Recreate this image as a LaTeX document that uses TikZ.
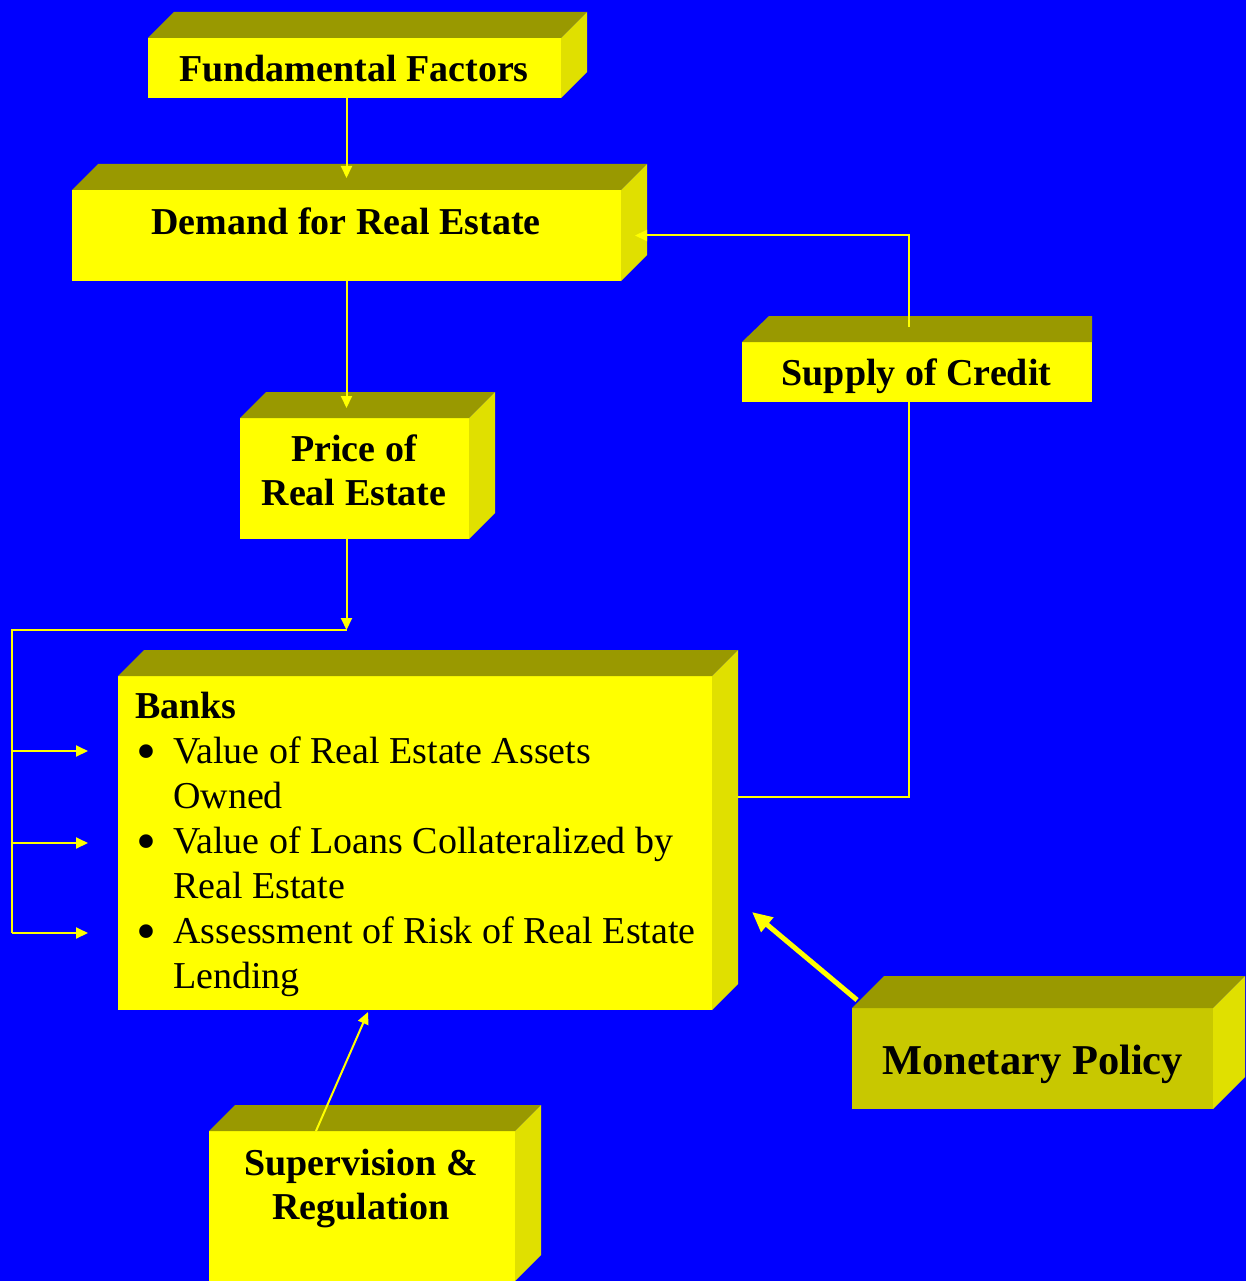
\documentclass[tikz,border=0pt]{standalone}
\usepackage{fontspec}
\setmainfont{Liberation Serif}
\usetikzlibrary{arrows.meta,calc}

\definecolor{slide}{HTML}{0000FF}
\definecolor{front}{HTML}{FFFF00}
\definecolor{topside}{HTML}{999900}
\definecolor{rside}{HTML}{E0E000}
\definecolor{policyfill}{HTML}{C8C800}

\tikzset{
    face/.style={fill=front, inner sep=0pt, outer sep=0pt},
    title/.style={font=\fontsize{38}{44}\selectfont\bfseries, inner sep=0pt},
    link/.style={draw=front, line width=2pt, -{Triangle[length=12pt,width=11pt]}},
    wire/.style={draw=front, line width=2pt},
    bigarrow/.style={draw=front, line width=5pt, -{Triangle[length=20pt,width=18pt]}}
}

% top and right faces of a box
\newcommand\slab[2][26]{%
    \fill[topside] (#2.north west) -- ++(#1,-#1) -- ([shift={(#1,-#1)}]#2.north east) -- (#2.north east) -- cycle;
    \fill[rside] (#2.north east) -- ++(#1,-#1) -- ([shift={(#1,-#1)}]#2.south east) -- (#2.south east) -- cycle;}
\newcommand\bul{\makebox[38pt][l]{\hspace{1pt}\smash{\raisebox{-7pt}{\scalebox{1.5}{\textbullet}}}}}

\begin{document}
\begin{tikzpicture}[x=1pt,y=-1pt]
    \fill[slide] (0,0) rectangle (1246,1281);
    \useasboundingbox (0,0) rectangle (1246,1281);

    \node (ff) at (354.5,68) [face, minimum width=413pt, minimum height=60pt] {};
    \node (demand) at (346.5,235.5) [face, minimum width=549pt, minimum height=91pt] {};
    \node (price) at (354.5,478.5) [face, minimum width=229pt, minimum height=121pt] {};
    \node (credit) at (917,372) [face, minimum width=350pt, minimum height=60pt] {};
    \node (banks) at (415,843) [face, minimum width=594pt, minimum height=334pt] {};
    \node (policy) at (1032.5,1058.5) [face, fill=policyfill, minimum width=361pt, minimum height=101pt] {};
    \node (super) at (362,1206) [face, minimum width=306pt, minimum height=150pt] {};

    \slab{ff}
    \slab{demand}
    \slab{price}
    \slab{banks}
    \slab[32]{policy}
    \slab{super}
    \fill[topside] (credit.north west) -- ++(27,-26) -- ([yshift=26pt]credit.north east) -- (credit.north east) -- cycle;

    \node (ff-t) at (354,82) [title, anchor=base] {Fundamental Factors};
    \node (demand-t) at (346,235) [title, anchor=base] {Demand for Real Estate};
    \node (price-t) at (354,461) [title, anchor=base] {
        \begin{tabular}[t]{@{}c@{}}
            Price of
            \\
            Real Estate
        \end{tabular}
    };
    \node (credit-t) at (916.5,385) [title, anchor=base] {Supply of Credit};
    \node (super-t) at (361,1175) [title, anchor=base] {
        \begin{tabular}[t]{@{}c@{}}
            Supervision \&
            \\
            Regulation
        \end{tabular}
    };
    \node (policy-t) at (1032.5,1074) [title, anchor=base, font=\fontsize{42.5}{50}\selectfont\bfseries] {Monetary Policy};
    \node (banks-t) at (135,718) [anchor=base west, inner sep=0pt, font=\fontsize{38}{45}\selectfont] {
        \begin{tabular}[t]{@{}l@{}}
            \textbf{Banks}
            \\
            \bul Value of Real Estate Assets
            \\
            \hspace*{38pt}Owned
            \\
            \bul Value of Loans Collateralized by
            \\
            \hspace*{38pt}Real Estate
            \\
            \bul Assessment of Risk of Real Estate
            \\
            \hspace*{38pt}Lending
        \end{tabular}
    };

    \coordinate (demand-in) at ($(demand.north)+(0,-12)$);
    \coordinate (price-in) at ($(demand.south |- price.north)+(0,-10)$);
    \coordinate (bus) at ($(price.south -| demand.south)+(0,91)$);
    \coordinate (bus-w) at (12,630);
    \coordinate (in1) at (88,751);
    \coordinate (in2) at (88,843);
    \coordinate (in3) at (88,933);
    \coordinate (credit-up) at ($(credit.north)+(-8,-15)$);

    \draw[link] (ff.south -| demand-in) -- (demand-in);
    \draw[link] (demand.south) -- (price-in);
    \draw[link] (price.south -| bus) -- (bus);
    \draw[wire] (bus) -- (bus-w) -- (bus-w |- in3);
    \foreach \k in {1,2,3}
        \draw[link] (bus-w |- in\k) -- (in\k);
    \draw[link] (credit-up) |- ($(demand.east)+(14,0)$);
    \draw[wire] ($(banks.east)+(26,-46)$) -| (credit-up |- credit.south);
    \draw[bigarrow] ($(policy.north west)+(5,-8)$) -- ($(banks.east)+(40,69)$);
    \draw[link] ($(super.north)+(-46,0)$) -- ($(banks.south)+(-47,2)$);
\end{tikzpicture}
\end{document}
